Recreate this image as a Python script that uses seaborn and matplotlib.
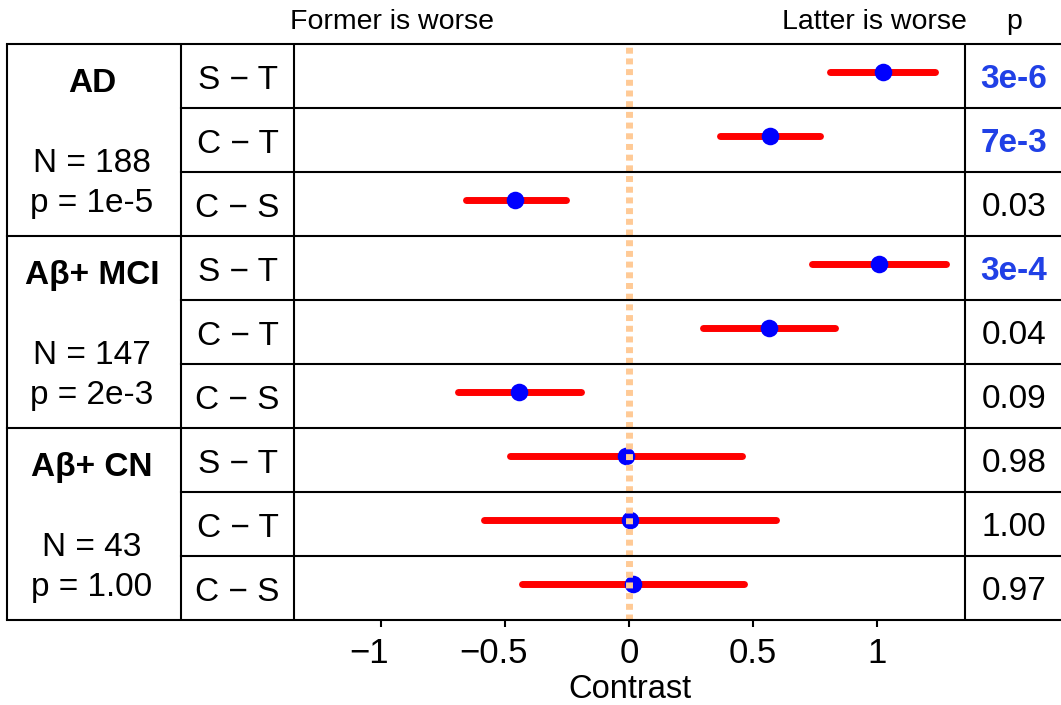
import numpy as np
import pandas as pd
import matplotlib
matplotlib.use('Agg')
import matplotlib.pyplot as plt
import matplotlib.transforms as mtransforms
import seaborn as sns

# ---------------- data ----------------
groups = ['AD', 'Aβ+ MCI', 'Aβ+ CN']
group_n = [188, 147, 43]
group_p = ['1e-5', '2e-3', '1.00']
contrasts = ['S − T', 'C − T', 'C − S']
estimates = [1.024, 0.569, -0.460, 1.008, 0.565, -0.444, -0.013, 0.004, 0.015]
ci_low = [0.812, 0.365, -0.659, 0.736, 0.300, -0.688, -0.479, -0.583, -0.430]
ci_high = [1.236, 0.772, -0.256, 1.280, 0.829, -0.195, 0.454, 0.591, 0.465]
p_values = ['3e-6', '7e-3', '0.03', '3e-4', '0.04', '0.09', '0.98', '1.00', '0.97']
p_significant = [True, True, False, True, False, False, False, False, False]
x_ticks = [-1, -0.5, 0, 0.5, 1]
x_tick_labels = ['−1', '−0.5', '0', '0.5', '1']

# ---------------- style ----------------
sns.set_theme(style='white')
plt.rcParams['font.family'] = ['Liberation Sans', 'DejaVu Sans']

W, H = 1061, 705
fig = plt.figure(figsize=(W / 100, H / 100), dpi=100)


def fx(px):
    return px / W


def fy(py):
    return 1 - py / H


PLOT_L, PLOT_R, TOP, BOTTOM = 294, 965, 44, 620
ax = fig.add_axes([fx(PLOT_L), fy(BOTTOM), fx(PLOT_R) - fx(PLOT_L), fy(TOP) - fy(BOTTOM)])

n_rows = len(estimates)
df = pd.DataFrame({
    'group': np.repeat(groups, len(contrasts)),
    'contrast': contrasts * len(groups),
    'estimate': estimates,
    'low': ci_low,
    'high': ci_high,
    'p': p_values,
    'sig': p_significant,
})
df['row'] = np.arange(n_rows)
df['ypos'] = df['row'] - 0.07

lc = ax.hlines(df['ypos'], df['low'], df['high'], color='#ff0000', lw=5, zorder=2)
lc.set_capstyle('round')
sns.scatterplot(data=df, x='estimate', y='ypos', color='#0000ff', s=160,
                linewidth=0, zorder=3, ax=ax, legend=False)
ax.axvline(0, color='#ffca96', lw=5, linestyle=(0, (0.86, 0.68)), zorder=4)

for s in ax.spines.values():
    s.set_visible(False)
ax.set_yticks([])
ax.set_ylabel('')
ax.set_xticks(x_ticks)
ax.set_xticklabels(x_tick_labels)
ax.tick_params(axis='x', bottom=True, direction='out', length=5, width=1.5,
               pad=7, labelsize=25, colors='black')
ax.set_xlabel('Contrast', fontsize=23.5, color='black')
ax.xaxis.set_label_coords(0.5, (BOTTOM - 698) / (BOTTOM - TOP))
ax.xaxis.label.set_va('baseline')

# ---------------- table ----------------
trans = mtransforms.blended_transform_factory(fig.transFigure, ax.transData)
LW = 1.5
X_LEFT, X_COL2, X_RIGHT = 7, 181, 1061


def hline(y, x0, x1):
    ax.plot([fx(x0), fx(x1)], [y, y], transform=trans, color='black', lw=LW,
            clip_on=False, solid_capstyle='projecting', zorder=6)


def vline(x, y0, y1):
    ax.plot([fx(x), fx(x)], [y0, y1], transform=trans, color='black', lw=LW,
            clip_on=False, solid_capstyle='butt', zorder=6)


n_c = len(contrasts)
hline(-0.5, X_LEFT, X_RIGHT)
for r in range(1, n_rows + 1):
    y = r - 0.5
    if r % n_c == 0:
        hline(y, X_LEFT, X_RIGHT)
    else:
        hline(y, X_COL2, X_RIGHT)
for x in [X_LEFT, X_COL2, PLOT_L, PLOT_R]:
    vline(x, -0.5, n_rows - 0.5)

TS = 24
col1_x = (X_LEFT + X_COL2) / 2 - 2
col2_x = (X_COL2 + PLOT_L) / 2
pcol_x = (PLOT_R + X_RIGHT) / 2 + 1
for g, name in enumerate(groups):
    r0 = g * n_c
    ax.text(fx(col1_x), r0 + 0.255, name, transform=trans, ha='center', va='baseline',
            fontsize=TS, fontweight='bold', color='black')
    ax.text(fx(col1_x), r0 + 1.5, f'N = {group_n[g]}', transform=trans, ha='center',
            va='baseline', fontsize=TS, color='black')
    ax.text(fx(col1_x), r0 + 2.13, f'p = {group_p[g]}', transform=trans, ha='center',
            va='baseline', fontsize=TS, color='black')

for _, row in df.iterrows():
    ax.text(fx(col2_x), row['row'] + 0.2, row['contrast'], transform=trans, ha='center',
            va='baseline', fontsize=TS, color='black')
    ax.text(fx(pcol_x), row['row'] + 0.19, row['p'], transform=trans, ha='center',
            va='baseline', fontsize=TS,
            fontweight='bold' if row['sig'] else 'normal',
            color='#2040e6' if row['sig'] else 'black')

# headers
HS = 20.5
fig.text(fx(290), fy(29), 'Former is worse', ha='left', va='baseline', fontsize=HS, color='black')
fig.text(fx(967), fy(29), 'Latter is worse', ha='right', va='baseline', fontsize=HS, color='black')
fig.text(fx(1014), fy(29), 'p', ha='center', va='baseline', fontsize=HS, color='black')

ax.set_xlim(-1.351, 1.355)
ax.set_ylim(n_rows - 0.5, -0.5)

# negative tick labels: the number is centred on the tick, the minus hangs left
minus_shift = mtransforms.ScaledTranslation(-12 / 100, 0, fig.dpi_scale_trans)
for lab in ax.get_xticklabels():
    if lab.get_text().startswith('−'):
        lab.set_transform(lab.get_transform() + minus_shift)

fig.savefig('out.png', dpi=100)
